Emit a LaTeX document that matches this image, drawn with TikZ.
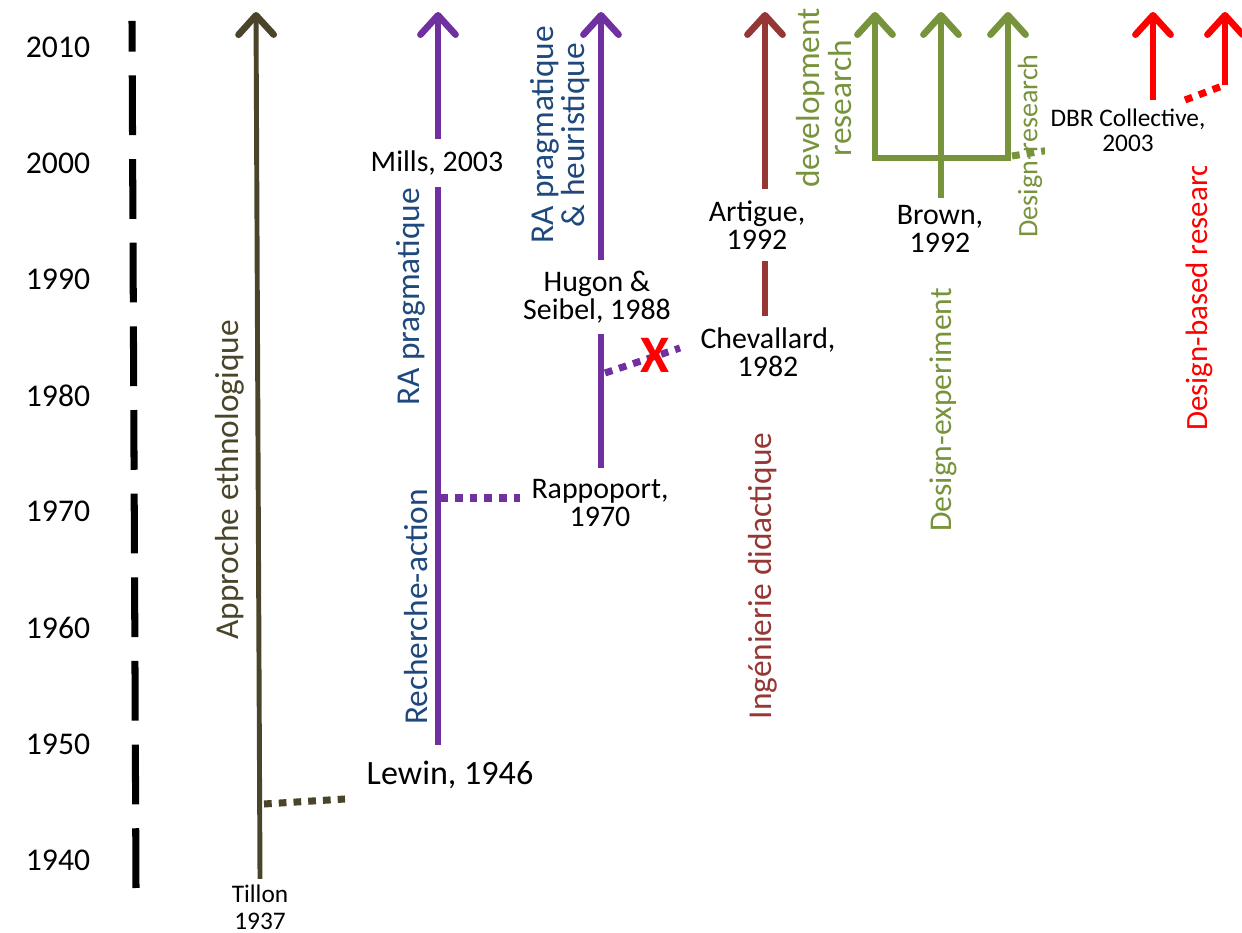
\documentclass[tikz,border=0pt]{standalone}
\usepackage{fontspec}
\setmainfont{Carlito}
\usetikzlibrary{arrows.meta}

\definecolor{ethno}{HTML}{4A452A}
\definecolor{ra}{HTML}{7030A0}
\definecolor{ratext}{HTML}{1F497D}
\definecolor{ingdid}{HTML}{953735}
\definecolor{design}{HTML}{77933C}
\definecolor{dbr}{HTML}{FF0000}

\begin{document}
\begin{tikzpicture}[
  tip/.style={-{Straight Barb[length=5.5pt,width=10pt,round]}},
  era/.style={line width=1.9pt},
  dotline/.style={line width=2pt, dash pattern=on 2.2pt off 2pt},
  lbl/.style={align=center, inner sep=3pt, font=\fontsize{8.5}{8}\selectfont},
  smalllbl/.style={align=center, inner sep=1.5pt, font=\fontsize{7.2}{7.6}\selectfont},
  vlabel/.style={rotate=90, align=center, font=\fontsize{9.5}{9}\selectfont},
  year/.style={font=\fontsize{9}{9}\selectfont}
]
\useasboundingbox (0,0) rectangle (12.42,9.33);

% Time axis
\foreach \yr [count=\i from 0] in {1940,1950,...,2010}
  \node[year] (y\yr) at (0.58, 0.73+1.1614*\i) {\yr};
\coordinate (axbot) at (1.36,0.45);
\coordinate (axtop) at (1.32,9.12);
\draw[line width=2pt, dash pattern=on 17pt off 6.8pt] (axbot) -- (axtop);

% Approche ethnologique
\node[smalllbl] (tillon) at (2.60,0.26) {Tillon\\1937};
\coordinate (ethtop) at (2.56,9.21);
\draw[ethno, line width=1.4pt, -{Straight Barb[length=5.5pt,width=10pt,round,line width=1.9pt]}] (tillon.north) -- (ethtop);
\node[vlabel, text=ethno] (ethno) at (2.30,4.53) {Approche ethnologique};
\coordinate (ethdot) at (2.64,1.29);
\coordinate (ethdotend) at (3.45,1.34);
\draw[ethno, dotline] (ethdot) -- (ethdotend);
\node[font=\fontsize{9.7}{9.7}\selectfont] (lewin) at (4.50,1.58) {Lewin, 1946};

% Recherche-action
\coordinate (rabot) at (4.38,1.88);
\coordinate (ratop) at (4.38,9.21);
\node[lbl] (mills) at (4.37,7.70) {Mills, 2003};
\draw[ra, era] (rabot) -- (ratop |- mills.south);
\draw[ra, era, tip] (ratop |- mills.north) -- (ratop);
\node[vlabel, text=ratext] (rapragm) at (4.11,6.36) {RA pragmatique};
\node[vlabel, text=ratext] (rechact) at (4.16,3.26) {Recherche-action};
\coordinate (radot) at (4.40,4.35);
\coordinate (radotend) at (5.20,4.35);
\draw[ra, dotline] (radot) -- (radotend);

% RA pragmatique & heuristique
\node[lbl] (rappoport) at (6.00,4.30) {Rappoport,\\1970};
\node[lbl] (hugon) at (5.97,6.36) {Hugon \&\\Seibel, 1988};
\coordinate (heurtop) at (6.01,9.21);
\draw[ra, era] (heurtop |- rappoport.north) -- (heurtop |- hugon.south);
\draw[ra, era, tip] (heurtop |- hugon.north) -- (heurtop);
\node[vlabel, text=ratext] (raheur) at (5.60,7.98) {RA pragmatique\\\& heuristique};
\coordinate (heurdot) at (6.05,5.60);
\coordinate (heurdotend) at (6.80,5.85);
\draw[ra, dotline] (heurdot) -- (heurdotend);
\node[text=dbr, inner sep=0pt, font=\fontsize{15}{15}\selectfont\bfseries] (cross) at (6.55,5.78) {X};

% Ingenierie didactique
\node[lbl] (chevallard) at (7.68,5.81) {Chevallard,\\1982};
\node[lbl] (artigue) at (7.57,7.08) {Artigue,\\1992};
\coordinate (ingtop) at (7.65,9.21);
\draw[ingdid, era] (ingtop |- chevallard.north) -- (ingtop |- artigue.south);
\draw[ingdid, era, tip] (ingtop |- artigue.north) -- (ingtop);
\node[vlabel, text=ingdid] (ingenierie) at (7.63,3.57) {Ingénierie didactique};

% Design experiment / development research / design research
\node[vlabel, text=design] (devres) at (8.24,8.35) {development\\research};
\coordinate (lefttip) at (8.75,9.21);
\coordinate (leftcorner) at (8.75,7.75);
\coordinate (rightcorner) at (10.08,7.75);
\coordinate (righttip) at (10.08,9.21);
\draw[design, era, line join=miter, {Straight Barb[length=5.5pt,width=10pt,round]}-{Straight Barb[length=5.5pt,width=10pt,round]}]
  (lefttip) -- (leftcorner) -- (rightcorner) -- (righttip);
\node[lbl, inner sep=2pt] (brown) at (9.40,7.04) {Brown,\\1992};
\coordinate (midtip) at (9.41,9.21);
\draw[design, era, tip] (midtip |- brown.north) -- (midtip);
\coordinate (desdot) at (10.12,7.77);
\coordinate (desdotend) at (10.63,7.85);
\draw[design, dotline] (desdot) -- (desdotend);
\node[rotate=90, text=design, font=\fontsize{8}{8}\selectfont] (desres) at (10.30,7.87) {Design-research};
\node[vlabel, text=design, font=\fontsize{9}{9}\selectfont] (desexp) at (9.43,5.23) {Design-experiment};

% Design-based research
\node[vlabel, text=dbr, font=\fontsize{8.8}{8.8}\selectfont] (dbrlabel) at (11.99,6.44) {Design-based research};
\node[smalllbl, fill=white, inner ysep=4pt, font=\fontsize{7.2}{7.2}\selectfont] (dbrcoll) at (11.28,8.03) {DBR Collective,\\2003};
\coordinate (dbrbotone) at (11.53,8.33);
\coordinate (dbrtip) at (11.53,9.21);
\draw[dbr, era, tip] (dbrbotone) -- (dbrtip);
\coordinate (dbrbot) at (12.25,8.48);
\coordinate (dbrtiptwo) at (12.25,9.21);
\draw[dbr, era, tip] (dbrbot) -- (dbrtiptwo);
\coordinate (dbrdot) at (11.85,8.33);
\draw[dbr, dotline] (dbrdot) -- (dbrbot);

\end{tikzpicture}
\end{document}
